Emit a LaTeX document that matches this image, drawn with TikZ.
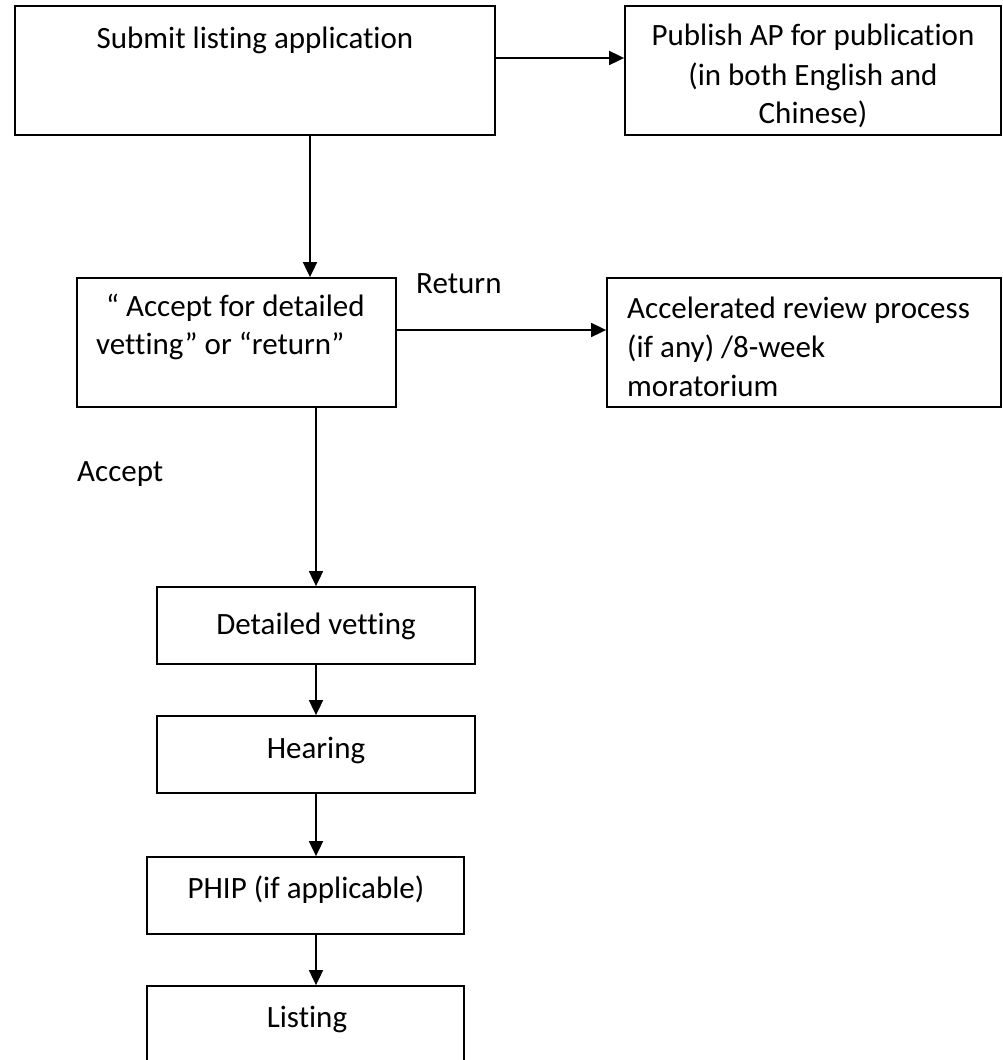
\documentclass[tikz,border=0pt]{standalone}
\usepackage{fontspec}
\setmainfont{Carlito}[Ligatures=NoCommon]
\usetikzlibrary{arrows.meta,fit}
\begin{document}
\begin{tikzpicture}[x=1pt,y=-1pt,
  box/.style={draw=black, line width=1.8pt, inner sep=0pt, rectangle},
  txt/.style={font=\fontsize{31}{38}\selectfont, inner sep=0pt},
  arr/.style={line width=1.8pt, -{Triangle[length=15pt,width=14pt]}}]
\useasboundingbox (0,0) rectangle (1003,1060);
\clip (0,0) rectangle (1003,1060);
\fill[white] (0,0) rectangle (1003,1060);
% boxes
\node[box, fit={(15,6)(495,135)}] (b1) {};
\node[box, fit={(625,6)(1001,135)}] (b2) {};
\node[box, fit={(77,278)(396,407)}] (b3) {};
\node[box, fit={(607,278)(1001,407)}] (b4) {};
\node[box, fit={(157,587)(475,664)}] (dv) {};
\node[box, fit={(157,716)(475,793)}] (hr) {};
\node[box, fit={(147,857)(464,934)}] (ph) {};
\node[box, fit={(147,986)(464,1100)}] (ls) {};
% texts
\node[txt, anchor=base] (t1) at (255,48) {Submit listing application};
\node[txt, anchor=base] (t2a) at (813,45) {Publish AP for publication};
\node[txt, anchor=base] (t2b) at (813,85) {(in both English and};
\node[txt, anchor=base] (t2c) at (813,123) {Chinese)};
\node[txt, anchor=base west] (t3a) at (106,316) {“ Accept for detailed};
\node[txt, anchor=base west] (t3b) at (96,354) {vetting” or “return”};
\node[txt, anchor=base west] (t4a) at (627,318) {Accelerated review process};
\node[txt, anchor=base west] (t4b) at (627,357) {(if any) /8-week};
\node[txt, anchor=base west] (t4c) at (627,396) {moratorium};
\node[txt, anchor=base west] (ret) at (416,293) {Return};
\node[txt, anchor=base west] (acc) at (77,481) {Accept};
\node[txt, anchor=base] (tdv) at (316,634) {Detailed vetting};
\node[txt, anchor=base] (thr) at (316,758) {Hearing};
\node[txt, anchor=base] (tph) at (306,898) {PHIP (if applicable)};
\node[txt, anchor=base] (tls) at (307,1027) {Listing};
% connectors
\coordinate (y58) at (0,58);
\coordinate (x310) at (310,0);
\coordinate (y330) at (0,330);
\coordinate (x316) at (316,0);
\draw[arr] (b1.east |- y58) -- (b2.west |- y58);
\draw[arr] (b1.south -| x310) -- (b3.north -| x310);
\draw[arr] (b3.east |- y330) -- (b4.west |- y330);
\draw[arr] (b3.south -| x316) -- (dv.north -| x316);
\draw[arr] (dv.south -| x316) -- (hr.north -| x316);
\draw[arr] (hr.south -| x316) -- (ph.north -| x316);
\draw[arr] (ph.south -| x316) -- (ls.north -| x316);
\end{tikzpicture}
\end{document}
